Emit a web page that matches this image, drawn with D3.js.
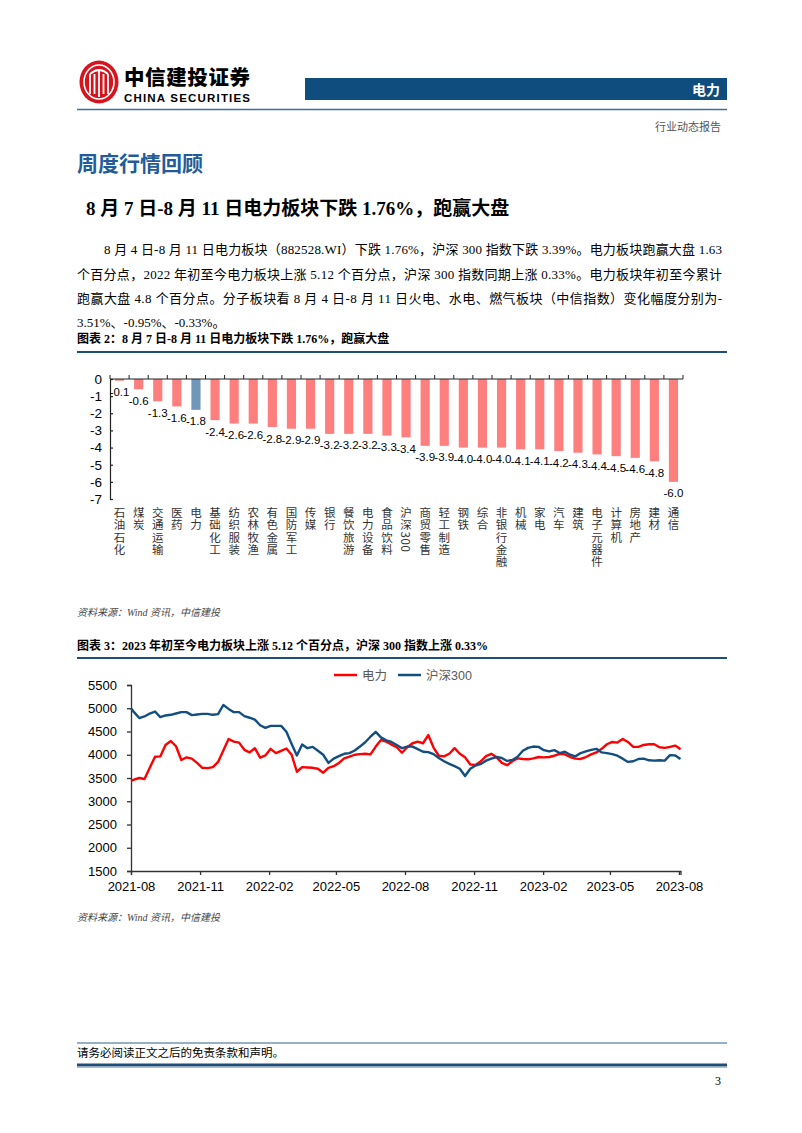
<!DOCTYPE html>
<html><head><meta charset="utf-8">
<script src="https://cdn.jsdelivr.net/npm/d3@7"></script>
<style>body{margin:0;background:#fff}svg{display:block}</style>
</head><body><svg id="c" width="802" height="1133"></svg>
<script>
// ---------- data ----------
const barCategories = ["石油石化","煤炭","交通运输","医药","电力","基础化工","纺织服装","农林牧渔","有色金属","国防军工","传媒","银行","餐饮旅游","电力设备","食品饮料","沪深300","商贸零售","轻工制造","钢铁","综合","非银行金融","机械","家电","汽车","建筑","电子元器件","计算机","房地产","建材","通信"];
const barValues = [-0.1,-0.6,-1.3,-1.6,-1.8,-2.4,-2.6,-2.6,-2.8,-2.9,-2.9,-3.2,-3.2,-3.2,-3.3,-3.4,-3.9,-3.9,-4.0,-4.0,-4.0,-4.1,-4.1,-4.2,-4.3,-4.4,-4.5,-4.6,-4.8,-6.0];
const highlightCategory = "电力";
const barYTicks = [0,-1,-2,-3,-4,-5,-6,-7];

const lineDates = ["2021-08-09","2021-08-13","2021-08-20","2021-08-27","2021-09-03","2021-09-10","2021-09-17","2021-09-24","2021-10-01","2021-10-08","2021-10-15","2021-10-22","2021-10-29","2021-11-05","2021-11-12","2021-11-19","2021-11-26","2021-12-03","2021-12-10","2021-12-17","2021-12-24","2021-12-31",
"2022-01-07","2022-01-14","2022-01-21","2022-01-28","2022-02-04","2022-02-11","2022-02-18","2022-02-25","2022-03-04","2022-03-11","2022-03-18","2022-03-25","2022-04-01","2022-04-08","2022-04-15","2022-04-22","2022-04-29","2022-05-06","2022-05-13","2022-05-20","2022-05-27","2022-06-03","2022-06-10","2022-06-17","2022-06-24","2022-07-01","2022-07-08","2022-07-15","2022-07-22","2022-07-29","2022-08-05","2022-08-12","2022-08-19","2022-08-26","2022-09-02","2022-09-09","2022-09-16","2022-09-23","2022-09-30","2022-10-07","2022-10-14","2022-10-21","2022-10-28","2022-11-04","2022-11-11","2022-11-18","2022-11-25","2022-12-02","2022-12-09","2022-12-16","2022-12-23","2022-12-30",
"2023-01-06","2023-01-13","2023-01-20","2023-01-27","2023-02-03","2023-02-10","2023-02-17","2023-02-24","2023-03-03","2023-03-10","2023-03-17","2023-03-24","2023-03-31","2023-04-07","2023-04-14","2023-04-21","2023-04-28","2023-05-05","2023-05-12","2023-05-19","2023-05-26","2023-06-02","2023-06-09","2023-06-16","2023-06-23","2023-06-30","2023-07-07","2023-07-14","2023-07-21","2023-07-28","2023-08-04","2023-08-11"];
const powerValues = [3437,3465,3500,3479,3719,3958,3965,4211,4296,4183,3888,3944,3916,3824,3719,3712,3733,3845,4092,4338,4282,4261,
4106,4050,4141,3937,3986,4127,4036,4085,4134,4000,3634,3733,3726,3719,3698,3613,3719,3754,3824,3923,3958,4000,4014,4021,4007,4176,4317,4282,4219,4162,4043,4162,4247,4282,4247,4423,4155,3979,3965,4021,4141,4021,3944,3789,3782,3860,3972,4021,3944,3824,3775,3860,
3923,3909,3902,3923,3951,3944,3951,3979,4021,4007,3951,3916,3909,3951,4007,4050,4127,4226,4275,4261,4338,4275,4169,4169,4211,4226,4226,4162,4148,4169,4197,4120];
const hs300Values = [5000,4916,4789,4824,4887,4930,4810,4845,4859,4887,4916,4916,4852,4866,4880,4880,4859,4873,5070,4986,4916,4916,
4831,4796,4754,4634,4578,4620,4620,4620,4493,4233,3986,4219,4141,4169,4085,4000,3824,3916,3972,4021,4036,4092,4176,4268,4388,4493,4373,4310,4275,4211,4141,4176,4176,4120,4064,4057,4014,3930,3860,3803,3754,3698,3543,3698,3768,3803,3874,3916,3951,3930,3867,3888,
3958,4085,4148,4176,4169,4099,4071,4099,4036,4064,4000,3965,4036,4071,4106,4127,4050,4036,4014,3979,3916,3846,3860,3909,3916,3881,3874,3881,3874,3993,3986,3909];
const lineYTicks = [1500,2000,2500,3000,3500,4000,4500,5000,5500];
const lineXTicks = ["2021-08-09","2021-11-09","2022-02-09","2022-05-09","2022-08-09","2022-11-09","2023-02-09","2023-05-09","2023-08-09"];
const seriesNames = ["电力","沪深300"];

// ---------- page ----------
const svg = d3.select("#c");
const CJK = "'Noto Sans CJK SC', sans-serif";
const SERIF = "'Liberation Serif', 'Noto Sans CJK SC', serif";
const SANS = "'Liberation Sans', Arial, 'Noto Sans CJK SC', sans-serif";
function txt(x, y, s, o = {}) {
  const t = svg.append("text").attr("x", x).attr("y", y).text(s)
    .attr("font-family", o.ff || SERIF).attr("font-size", o.fs || 13)
    .attr("fill", o.fill || "#000");
  if (o.fw) t.attr("font-weight", o.fw);
  if (o.anchor) t.attr("text-anchor", o.anchor);
  if (o.style) t.attr("font-style", o.style);
  if (o.len) t.attr("textLength", o.len).attr("lengthAdjust", "spacing");
  return t;
}
function hline(x1, x2, y, c, w) {
  svg.append("line").attr("x1", x1).attr("x2", x2).attr("y1", y).attr("y2", y).attr("stroke", c).attr("stroke-width", w);
}

// logo
const logo = svg.append("g").attr("transform", "translate(99,82)");
logo.append("ellipse").attr("rx", 19.5).attr("ry", 21.5).attr("fill", "#D7141D");
logo.append("ellipse").attr("rx", 15).attr("ry", 17).attr("fill", "none").attr("stroke", "#fff").attr("stroke-width", 1.6);
[-9, -4.5, 4.5, 9].forEach(dx => logo.append("line").attr("x1", dx).attr("x2", dx).attr("y1", -8).attr("y2", 12).attr("stroke", "#fff").attr("stroke-width", 1.8));
logo.append("path").attr("d", "M-9,-8 Q0,-16 9,-8").attr("fill", "none").attr("stroke", "#fff").attr("stroke-width", 1.8);
logo.append("line").attr("x1", 0).attr("x2", 0).attr("y1", -12).attr("y2", 15).attr("stroke", "#fff").attr("stroke-width", 1.8);
txt(124, 85, "中信建投证券", { ff: CJK, fs: 20.5, fw: 900, len: 126 });
txt(124, 102, "CHINA SECURITIES", { ff: SANS, fs: 11.5, fw: 700, len: 126 });
svg.append("rect").attr("x", 305).attr("y", 78).attr("width", 422).attr("height", 22).attr("fill", "#0E4D7D");
txt(720, 95, "电力", { ff: CJK, fs: 14, fw: 700, fill: "#fff", anchor: "end" });
hline(77, 727, 109.5, "#3A6EA5", 1.5);
txt(721, 131, "行业动态报告", { ff: CJK, fs: 11, fill: "#555", anchor: "end" });

txt(77, 171, "周度行情回顾", { ff: CJK, fs: 21, fw: 700, fill: "#1F5C99" });
txt(86, 215, "8 月 7 日-8 月 11 日电力板块下跌 1.76%，跑赢大盘", { fs: 19, fw: 700 });

txt(104, 254, "8 月 4 日-8 月 11 日电力板块（882528.WI）下跌 1.76%，沪深 300 指数下跌 3.39%。电力板块跑赢大盘 1.63", { fs: 13, len: 618 });
txt(77, 279, "个百分点，2022 年初至今电力板块上涨 5.12 个百分点，沪深 300 指数同期上涨 0.33%。电力板块年初至今累计", { fs: 13, len: 645 });
txt(77, 303, "跑赢大盘 4.8 个百分点。分子板块看 8 月 4 日-8 月 11 日火电、水电、燃气板块（中信指数）变化幅度分别为-", { fs: 13, len: 645 });
txt(77, 327, "3.51%、-0.95%、-0.33%。", { fs: 13 });

txt(77, 343, "图表 2：8 月 7 日-8 月 11 日电力板块下跌 1.76%，跑赢大盘", { fs: 12, fw: 700 });
hline(77, 727, 352, "#1F4E79", 2);

// ---------- bar chart ----------
const xB = d3.scaleBand().domain(barCategories).range([110, 683]).paddingInner(0.52).paddingOuter(0.26);
const yB = d3.scaleLinear().domain([-7, 0]).range([499, 379]);
const barData = barCategories.map((c, i) => ({ c, v: barValues[i] }));
svg.append("g").selectAll("rect").data(barData).join("rect")
  .attr("x", d => xB(d.c)).attr("width", xB.bandwidth())
  .attr("y", yB(0)).attr("height", d => yB(d.v) - yB(0))
  .attr("fill", d => d.c === highlightCategory ? "#7097BA" : "#FF7F7F");
const gyB = svg.append("g").attr("transform", "translate(110,0)")
  .call(d3.axisLeft(yB).tickValues(barYTicks).tickSizeInner(-3).tickSizeOuter(0).tickPadding(8).tickFormat(d => String(d)));
gyB.selectAll("text").attr("font-family", SANS).attr("font-size", 13.5).attr("fill", "#000");
gyB.selectAll("path,line").attr("stroke", "#222").attr("stroke-width", 1.2);
// category axis (top, at zero)
const step = xB.step();
const bTicks = barCategories.map(c => xB(c) - step * 0.26).concat([xB(barCategories[barCategories.length - 1]) + xB.bandwidth() + step * 0.26]);
hline(110, 683, yB(0), "#222", 1.2);
svg.append("g").selectAll("line").data(bTicks).join("line")
  .attr("x1", d => d).attr("x2", d => d).attr("y1", yB(0)).attr("y2", yB(0) - 4)
  .attr("stroke", "#222").attr("stroke-width", 1);
svg.append("g").selectAll("text").data(barData).join("text")
  .attr("x", d => xB(d.c) + xB.bandwidth() / 2).attr("y", d => yB(d.v) + 15.5)
  .attr("text-anchor", "middle").attr("font-family", SANS).attr("font-size", 11.5).attr("fill", "#000")
  .text(d => d.v.toFixed(1));
// vertical category labels (one text per category, vertical writing mode)
const catFs = 11.5, catTop = 507;
svg.append("g").selectAll("text").data(barCategories).join("text")
  .attr("x", c => xB(c) + xB.bandwidth() / 2).attr("y", catTop)
  .style("writing-mode", "vertical-rl").style("text-orientation", "mixed")
  .attr("letter-spacing", 0.7)
  .attr("font-family", "'Noto Sans CJK SC', 'Liberation Sans', sans-serif").attr("font-size", catFs).attr("fill", "#333")
  .text(c => c);

txt(77, 616, "资料来源：Wind 资讯，中信建投", { fs: 10, style: "italic", fill: "#444" });

// ---------- line chart ----------
txt(77, 650, "图表 3：2023 年初至今电力板块上涨 5.12 个百分点，沪深 300 指数上涨 0.33%", { fs: 12, fw: 700 });
hline(77, 727, 658, "#1F4E79", 2);

const parse = d3.timeParse("%Y-%m-%d");
const xL = d3.scaleTime().domain([parse("2021-08-09"), parse("2023-08-11")]).range([131, 680.5]);
const yL = d3.scaleLinear().domain([1500, 5500]).range([871, 685]);
const gyL = svg.append("g").attr("transform", "translate(131,0)")
  .call(d3.axisLeft(yL).tickValues(lineYTicks).tickSize(4).tickPadding(10).tickFormat(d => String(d)));
const gxL = svg.append("g").attr("transform", "translate(0,871)")
  .call(d3.axisBottom(xL).tickValues(lineXTicks.map(parse)).tickSize(4).tickPadding(7).tickFormat(d3.timeFormat("%Y-%m")));
[gyL, gxL].forEach(g => {
  g.selectAll("text").attr("font-family", SANS).attr("font-size", 13).attr("fill", "#000");
  g.selectAll("path,line").attr("stroke", "#333").attr("stroke-width", 1.3);
});
const dates = lineDates.map(parse);
const lineGen = d3.line().x((d, i) => xL(dates[i])).y(d => yL(d));
const colors = ["#FF0000", "#124E80"];
[powerValues, hs300Values].forEach((vals, k) => {
  svg.append("path").datum(vals).attr("d", lineGen).attr("fill", "none")
    .attr("stroke", colors[k]).attr("stroke-width", 2.4).attr("stroke-linejoin", "round");
});
// legend
const legX = [334, 398];
seriesNames.forEach((n, k) => {
  svg.append("line").attr("x1", legX[k]).attr("x2", legX[k] + 23).attr("y1", 675).attr("y2", 675)
    .attr("stroke", colors[k]).attr("stroke-width", 2.5);
  txt(legX[k] + 28, 680, n, { ff: SANS, fs: 12.5, fill: "#595959" });
});

txt(77, 921, "资料来源：Wind 资讯，中信建投", { fs: 10, style: "italic", fill: "#444" });

// ---------- footer ----------
hline(77, 727, 1043, "#2E5E8E", 1);
txt(77, 1057, "请务必阅读正文之后的免责条款和声明。", { fs: 11.5 });
hline(77, 727, 1065, "#1F4E79", 3);
hline(77, 727, 1067.5, "#9DC3E6", 1);
txt(721, 1085, "3", { fs: 12, anchor: "end" });
</script></body></html>
